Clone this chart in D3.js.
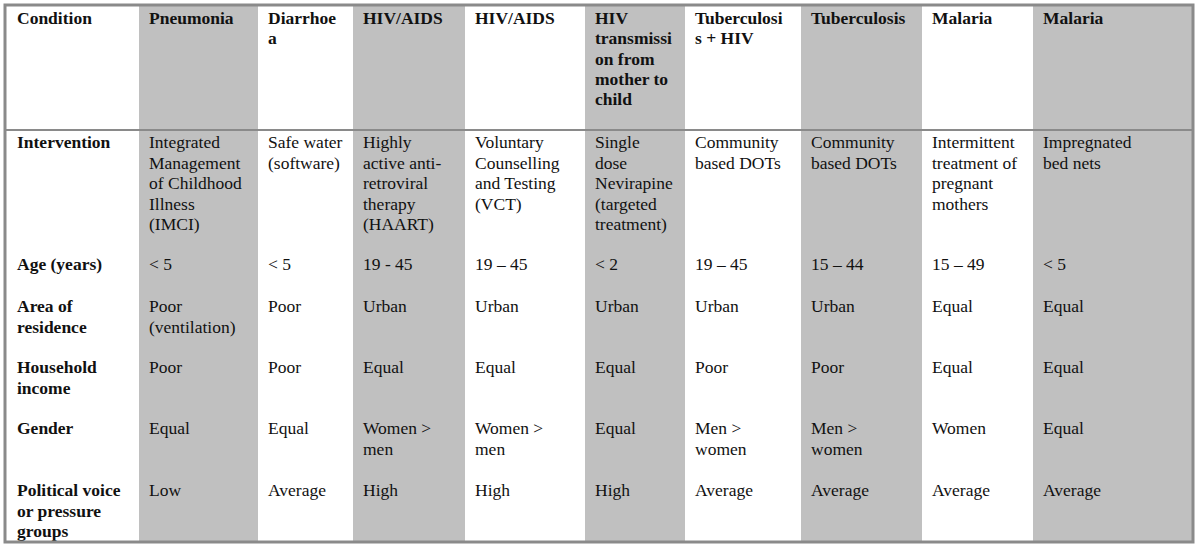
<!DOCTYPE html>
<html>
<head>
<meta charset="utf-8">
<script src="https://cdn.jsdelivr.net/npm/d3@7"></script>
<style>
  body { margin: 0; background: #fff; }
  svg text { font-family: 'Liberation Serif', 'Times New Roman', serif; font-size: 17.5px; fill: #111; }
  .bold { font-weight: bold; }
</style>
</head>
<body>
<div id="viz"></div>
<script>
// column headers (conditions), one array of wrapped lines per column
const conditions = [
	['Condition'],
	['Pneumonia'],
	['Diarrhoe', 'a'],
	['HIV/AIDS'],
	['HIV/AIDS'],
	['HIV', 'transmissi', 'on from', 'mother to', 'child'],
	['Tuberculosi', 's + HIV'],
	['Tuberculosis'],
	['Malaria'],
	['Malaria']
];

const rowLabels = [
	['Intervention'],
	['Age (years)'],
	['Area of', 'residence'],
	['Household', 'income'],
	['Gender'],
	['Political voice', 'or pressure', 'groups']
];

const interventions = [
	['Integrated', 'Management', 'of Childhood', 'Illness', '(IMCI)'],
	['Safe water', '(software)'],
	['Highly', 'active anti-', 'retroviral', 'therapy', '(HAART)'],
	['Voluntary', 'Counselling', 'and Testing', '(VCT)'],
	['Single', 'dose', 'Nevirapine', '(targeted', 'treatment)'],
	['Community', 'based DOTs'],
	['Community', 'based DOTs'],
	['Intermittent', 'treatment of', 'pregnant', 'mothers'],
	['Impregnated', 'bed nets']
];
const ages = ['< 5', '< 5', '19 - 45', '19 \u2013 45', '< 2', '19 \u2013 45', '15 \u2013 44', '15 \u2013 49', '< 5'];
const residence = [['Poor', '(ventilation)'], ['Poor'], ['Urban'], ['Urban'], ['Urban'], ['Urban'], ['Urban'], ['Equal'], ['Equal']];
const income = ['Poor', 'Poor', 'Equal', 'Equal', 'Equal', 'Poor', 'Poor', 'Equal', 'Equal'];
const gender = [['Equal'], ['Equal'], ['Women >', 'men'], ['Women >', 'men'], ['Equal'], ['Men >', 'women'], ['Men >', 'women'], ['Women'], ['Equal']];
const politicalVoice = ['Low', 'Average', 'High', 'High', 'High', 'Average', 'Average', 'Average', 'Average'];

const shaded = [false, true, false, true, false, true, false, true, false, true];

// layout
const WIDTH = 1200, HEIGHT = 547;
const colEdges = [5, 139, 258, 353, 465, 585, 685, 801, 922, 1033, 1193];
const TOP = 5, BOTTOM = 542, HEADER_BOTTOM = 130;
const rowBaselines = [148, 270, 312, 373, 434, 496];
const LINE = 20.6;
const PAD = 10;

const asLines = (v) => Array.isArray(v) ? v : [v];
const bodyRows = [interventions, ages, residence, income, gender, politicalVoice];

const svg = d3.select('#viz').append('svg')
	.attr('width', WIDTH)
	.attr('height', HEIGHT);

const colScale = d3.scaleOrdinal()
	.domain(d3.range(conditions.length))
	.range(colEdges.slice(0, -1));
const colWidth = (i) => colEdges[i + 1] - colEdges[i];

// shaded column backgrounds
svg.append('g').selectAll('rect')
	.data(d3.range(conditions.length).filter((i) => shaded[i]))
	.join('rect')
	.attr('x', (i) => colScale(i))
	.attr('y', TOP)
	.attr('width', (i) => colWidth(i))
	.attr('height', BOTTOM - TOP)
	.attr('fill', '#c0c0c0');

// header cells
const header = svg.append('g').selectAll('text')
	.data(conditions)
	.join('text')
	.attr('class', 'bold')
	.attr('x', (d, i) => colScale(i) + PAD + (i === 0 ? 2 : 0))
	.attr('y', 24);

header.selectAll('tspan')
	.data((d) => d)
	.join('tspan')
	.attr('x', function() { return this.parentNode.getAttribute('x'); })
	.attr('dy', (d, j) => j === 0 ? 0 : 20.3)
	.text((d) => d);

// body rows
const cells = [];
bodyRows.forEach((row, r) => {
	cells.push({ col: 0, row: r, lines: rowLabels[r], bold: true });
	row.forEach((v, c) => cells.push({ col: c + 1, row: r, lines: asLines(v), bold: false }));
});

const cellText = svg.append('g').selectAll('text')
	.data(cells)
	.join('text')
	.attr('class', (d) => d.bold ? 'bold' : null)
	.attr('x', (d) => colScale(d.col) + PAD + (d.col === 0 ? 2 : 0))
	.attr('y', (d) => rowBaselines[d.row]);

cellText.selectAll('tspan')
	.data((d) => d.lines)
	.join('tspan')
	.attr('x', function() { return this.parentNode.getAttribute('x'); })
	.attr('dy', (d, j) => j === 0 ? 0 : LINE)
	.text((d) => d);

// header separator and outer border
svg.append('line')
	.attr('x1', colEdges[0]).attr('x2', colEdges[colEdges.length - 1])
	.attr('y1', HEADER_BOTTOM).attr('y2', HEADER_BOTTOM)
	.attr('stroke', '#8a8a8a')
	.attr('stroke-width', 2);

svg.append('rect')
	.attr('x', colEdges[0])
	.attr('y', TOP)
	.attr('width', colEdges[colEdges.length - 1] - colEdges[0])
	.attr('height', BOTTOM - TOP)
	.attr('fill', 'none')
	.attr('stroke', '#8a8a8a')
	.attr('stroke-width', 3);
</script>
</body>
</html>
